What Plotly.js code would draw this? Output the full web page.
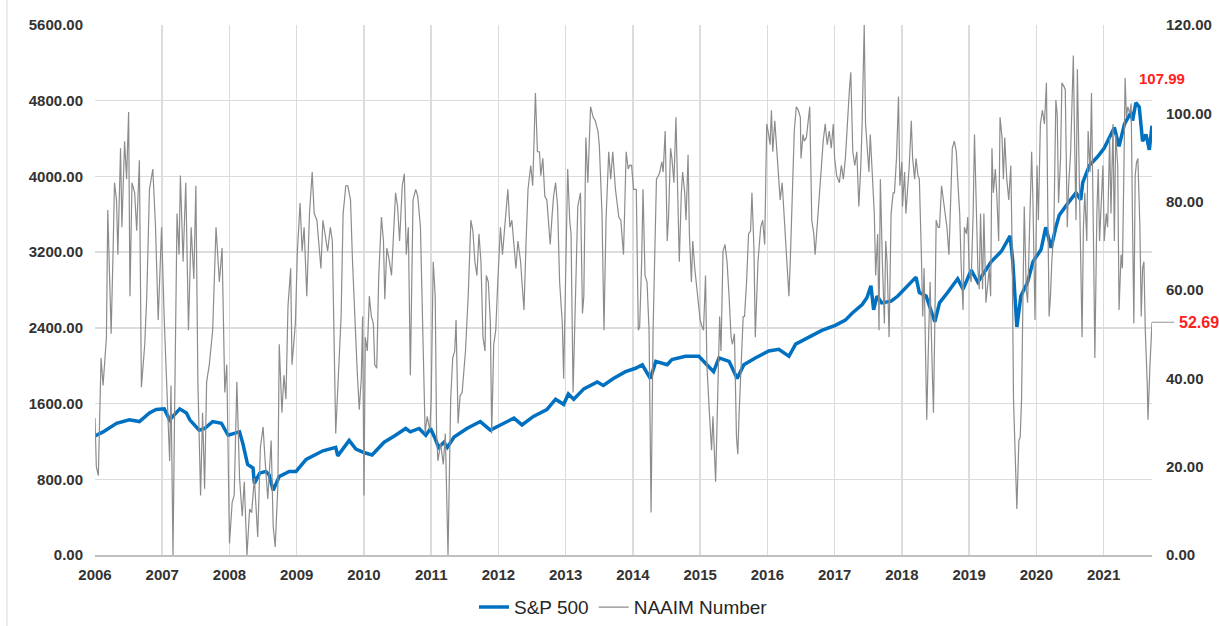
<!DOCTYPE html>
<html>
<head>
<meta charset="utf-8">
<script src="https://cdn.plot.ly/plotly-3.0.1.min.js"></script>
<style>
html,body{margin:0;padding:0;background:#fff;}
#chart{width:1219px;height:626px;}
</style>
</head>
<body>
<div id="chart"></div>
<script>
// S&P 500 (left axis), time in decimal years as labelled on the chart's axis
var spYear = [2006.00,2006.12,2006.32,2006.51,2006.66,2006.81,2006.91,2007.03,2007.11,2007.26,2007.36,2007.41,2007.55,2007.63,2007.75,2007.88,2007.98,
2008.15,2008.20,2008.27,2008.35,2008.37,2008.45,2008.54,2008.59,2008.65,2008.74,2008.89,2008.99,2009.14,2009.39,2009.58,2009.61,2009.78,2009.88,2010.00,
2010.12,2010.30,2010.47,2010.62,2010.69,2010.82,2010.92,2010.99,2011.06,2011.11,2011.19,2011.24,2011.34,2011.53,2011.73,2011.88,2012.03,2012.23,2012.35,
2012.52,2012.72,2012.85,2012.97,2013.04,2013.12,2013.27,2013.47,2013.56,2013.71,2013.89,2014.04,2014.14,2014.26,2014.34,2014.51,2014.58,2014.78,2014.98,
2015.10,2015.20,2015.28,2015.43,2015.55,2015.65,2015.82,2016.02,2016.17,2016.32,2016.42,2016.61,2016.81,2017.01,2017.16,2017.26,2017.41,2017.48,2017.54,
2017.58,2017.63,2017.70,2017.84,2017.94,2018.04,2018.21,2018.26,2018.36,2018.49,2018.56,2018.68,2018.83,2018.91,2019.03,2019.13,2019.23,2019.33,2019.48,
2019.61,2019.65,2019.71,2019.77,2019.87,2019.95,2020.07,2020.14,2020.22,2020.29,2020.34,2020.47,2020.59,2020.66,2020.69,2020.79,2020.91,2021.01,2021.16,
2021.23,2021.31,2021.41,2021.43,2021.48,2021.53,2021.58,2021.63,2021.68,2021.72];
var spValue = [1257,1301,1392,1428,1410,1501,1537,1544,1428,1544,1501,1428,1319,1337,1410,1392,1265,
1301,1174,956,919,756,865,883,847,683,829,883,883,1010,1101,1137,1047,1210,1119,1083,
1057,1192,1265,1337,1301,1337,1265,1337,1228,1137,1192,1137,1246,1337,1410,1319,1374,1446,1374,
1464,1537,1646,1592,1701,1646,1755,1828,1792,1864,1937,1973,2010,1864,2046,2010,2064,2100,2100,
2010,1937,2082,2046,1864,2010,2082,2155,2173,2100,2228,2300,2373,2427,2482,2555,2646,2718,2845,
2591,2736,2664,2682,2736,2809,2936,2773,2736,2464,2664,2773,2918,2809,3009,2882,2991,3100,3209,
3372,3100,2409,2736,2882,3100,3227,3463,3245,3463,3590,3718,3827,3754,3936,4117,4208,4299,4517,
4317,4553,4681,4590,4779,4735,4372,4444,4281,4535];

// NAAIM Number (right axis)
var naaimYear = [2006.00,2006.02,2006.05,2006.09,2006.12,2006.17,2006.19,2006.24,2006.27,2006.29,2006.32,2006.34,2006.38,2006.40,2006.44,2006.47,2006.50,2006.52,2006.55,2006.59,
2006.62,2006.66,2006.69,2006.74,2006.77,2006.81,2006.86,2006.90,2006.94,2006.99,2007.03,2007.07,2007.11,2007.13,2007.16,2007.18,2007.22,2007.25,2007.27,2007.31,
2007.35,2007.39,2007.43,2007.47,2007.50,2007.53,2007.57,2007.60,2007.63,2007.66,2007.70,2007.75,2007.80,2007.85,2007.89,2007.93,2007.96,2008.00,2008.04,2008.07,
2008.11,2008.15,2008.19,2008.22,2008.26,2008.30,2008.33,2008.37,2008.42,2008.46,2008.50,2008.53,2008.57,2008.62,2008.65,2008.68,2008.72,2008.74,2008.78,2008.81,
2008.84,2008.87,2008.91,2008.93,2008.98,2009.01,2009.05,2009.08,2009.11,2009.15,2009.19,2009.23,2009.26,2009.30,2009.34,2009.36,2009.39,2009.43,2009.46,2009.50,
2009.53,2009.58,2009.62,2009.66,2009.69,2009.73,2009.76,2009.80,2009.83,2009.87,2009.90,2009.93,2009.96,2009.98,2010.00,2010.02,2010.05,2010.08,2010.11,2010.14,
2010.16,2010.19,2010.22,2010.26,2010.29,2010.31,2010.34,2010.37,2010.41,2010.44,2010.47,2010.50,2010.53,2010.57,2010.60,2010.63,2010.66,2010.69,2010.73,2010.77,
2010.80,2010.84,2010.88,2010.91,2010.94,2010.98,2011.00,2011.03,2011.06,2011.08,2011.10,2011.14,2011.18,2011.21,2011.25,2011.29,2011.32,2011.35,2011.37,2011.40,
2011.43,2011.46,2011.51,2011.55,2011.59,2011.62,2011.65,2011.68,2011.71,2011.74,2011.77,2011.80,2011.82,2011.85,2011.88,2011.90,2011.93,2011.96,2011.99,2012.03,
2012.06,2012.10,2012.14,2012.17,2012.20,2012.23,2012.26,2012.29,2012.33,2012.35,2012.38,2012.41,2012.44,2012.48,2012.51,2012.55,2012.58,2012.61,2012.63,2012.66,
2012.69,2012.72,2012.75,2012.77,2012.80,2012.82,2012.85,2012.88,2012.91,2012.95,2012.97,2013.00,2013.03,2013.06,2013.08,2013.11,2013.14,2013.18,2013.22,2013.25,
2013.27,2013.30,2013.33,2013.37,2013.41,2013.44,2013.48,2013.50,2013.54,2013.57,2013.60,2013.64,2013.67,2013.70,2013.74,2013.76,2013.79,2013.82,2013.86,2013.90,
2013.93,2013.95,2013.98,2014.01,2014.05,2014.08,2014.10,2014.13,2014.15,2014.18,2014.21,2014.24,2014.27,2014.30,2014.33,2014.35,2014.38,2014.40,2014.43,2014.45,
2014.48,2014.50,2014.51,2014.53,2014.56,2014.58,2014.61,2014.64,2014.67,2014.69,2014.72,2014.74,2014.77,2014.79,2014.82,2014.84,2014.87,2014.89,2014.92,2014.96,
2014.98,2015.00,2015.03,2015.05,2015.08,2015.10,2015.14,2015.17,2015.19,2015.23,2015.26,2015.29,2015.31,2015.34,2015.37,2015.40,2015.43,2015.46,2015.48,2015.51,
2015.54,2015.56,2015.58,2015.61,2015.64,2015.66,2015.69,2015.72,2015.75,2015.77,2015.80,2015.82,2015.86,2015.90,2015.93,2015.96,2015.99,2016.01,2016.04,2016.06,
2016.08,2016.11,2016.13,2016.16,2016.19,2016.22,2016.24,2016.27,2016.29,2016.32,2016.34,2016.37,2016.40,2016.43,2016.46,2016.49,2016.50,2016.53,2016.55,2016.58,
2016.60,2016.63,2016.66,2016.69,2016.71,2016.74,2016.77,2016.80,2016.83,2016.86,2016.89,2016.92,2016.95,2016.98,2017.00,2017.03,2017.07,2017.10,2017.13,2017.16,
2017.19,2017.22,2017.24,2017.27,2017.30,2017.33,2017.36,2017.39,2017.41,2017.44,2017.46,2017.49,2017.51,2017.53,2017.56,2017.59,2017.61,2017.64,2017.66,2017.68,
2017.71,2017.74,2017.76,2017.78,2017.81,2017.84,2017.87,2017.89,2017.92,2017.95,2017.97,2018.00,2018.01,2018.04,2018.06,2018.09,2018.11,2018.14,2018.16,2018.19,
2018.21,2018.24,2018.26,2018.29,2018.31,2018.33,2018.35,2018.37,2018.40,2018.42,2018.45,2018.47,2018.49,2018.51,2018.54,2018.56,2018.59,2018.62,2018.65,2018.67,
2018.70,2018.73,2018.75,2018.78,2018.81,2018.83,2018.86,2018.88,2018.91,2018.93,2018.96,2018.98,2019.00,2019.03,2019.06,2019.08,2019.10,2019.13,2019.15,2019.17,
2019.20,2019.22,2019.25,2019.27,2019.30,2019.32,2019.34,2019.36,2019.39,2019.41,2019.44,2019.46,2019.49,2019.51,2019.53,2019.56,2019.59,2019.62,2019.64,2019.66,
2019.69,2019.71,2019.74,2019.76,2019.78,2019.80,2019.82,2019.85,2019.87,2019.90,2019.93,2019.95,2019.98,2020.01,2020.03,2020.06,2020.09,2020.12,2020.15,2020.17,
2020.19,2020.21,2020.23,2020.26,2020.29,2020.31,2020.33,2020.36,2020.38,2020.41,2020.43,2020.46,2020.48,2020.51,2020.53,2020.55,2020.57,2020.59,2020.61,2020.63,
2020.65,2020.68,2020.70,2020.72,2020.75,2020.77,2020.80,2020.82,2020.85,2020.87,2020.90,2020.92,2020.94,2020.97,2020.99,2021.01,2021.04,2021.06,2021.09,2021.11,
2021.14,2021.16,2021.18,2021.21,2021.23,2021.26,2021.28,2021.30,2021.32,2021.34,2021.36,2021.39,2021.41,2021.43,2021.45,2021.47,2021.49,2021.51,2021.54,2021.56,
2021.58,2021.60,2021.62,2021.65,2021.66,2021.69,2021.72];
var naaimValue = [31,20,18,44.6,38.4,49.3,78.1,50.1,69.5,84.3,80.4,68,92.1,74.2,93.7,85.1,100.3,58.6,84.3,82,
73.4,89.4,38,47.7,58.6,82.8,87.4,74.2,53.2,74.2,53.2,39.2,21.3,38.4,0,27.5,77.3,68,85.9,66.4,
84.3,50.9,74.2,62.5,83.6,39.2,13.5,32.2,15,39.2,43.1,50.9,74.2,61.8,69.5,36.8,43.1,2.6,11.9,13.5,
39.2,17.4,8.8,16.6,0,10.4,9.6,17.4,4.1,24.4,29,21.3,12.7,25.9,6.5,1.8,15.8,47.7,32.2,40.7,
35.3,56.3,64.9,43.1,52.4,68.8,79.7,68.8,74.2,58.6,77.3,86.7,77.3,75.8,68,64.9,75.8,71.1,68.8,74.2,
71.1,27.5,39.2,54,77.3,83.6,83.6,80.4,66.4,50.9,41.5,32.9,39.9,54,13.5,49.3,46.2,58.6,54,52.4,
43.1,42.3,63.3,76.5,71.1,57.9,69.5,67.2,63.3,72.7,82,78.9,71.1,83.6,86.3,68,74.2,40.7,80.4,82.8,
81.2,74.2,50.9,27.5,31.4,28.3,35.3,66.4,58.6,27.5,21.3,25.2,20.5,27.5,0,35.3,44.6,46.2,53.2,29.8,
36.1,36.8,46.2,58.6,75.8,73.4,66.4,63.3,72.7,66.4,49.3,46.2,63.3,61.8,52.4,27.5,47.7,50.9,61.8,74.2,
68,75.8,82.8,74.2,75.8,70.3,64.9,71.1,66.4,61.8,55.5,70.3,82.8,88.2,83.6,104.6,91.3,91.3,85.9,89.8,
81.2,80.4,73.4,70.3,77.3,81.2,84.3,78.9,61.8,52.4,39.9,61,87.4,75.8,72.7,36.8,54,78.9,82,54.7,
58.6,94.5,84.3,101.5,99.1,98.3,96,92.9,77.3,50.9,75.8,91.3,85.1,91.3,82.8,80.4,76.5,75.8,68,91.3,
87.4,88.2,88.2,82.8,82.8,50.9,51.6,66.4,82.8,63.3,61.8,50.9,9.6,50.9,75.8,85.1,85.9,86.7,89,86.7,
96,83.6,71.1,76.5,92.1,89.8,84.3,99.1,77.3,66.4,82,86.7,82,75.8,90.6,72.7,61.8,71.1,64.9,58.6,
56.3,53.2,51.6,50.9,63.3,43.1,31.4,23.7,31.4,16.6,35.3,54,46.2,68.8,70.3,66.4,58.6,49.3,47.7,50.1,
26.7,22.8,32.2,43.1,54,54,61.8,72.7,73.4,82,69.5,49.3,66.4,74.2,75.8,70.3,97.6,96,92.9,100.7,
91.3,98.3,93.7,86.7,80.4,84.3,78.9,72.7,68,58.6,66.4,83.6,96,101.5,100.7,99.1,89.8,95.2,93.7,94.5,
97.6,101.5,75.8,72.7,68,74.2,82,88.2,93.7,97.6,92.9,96,92.1,97.6,89.8,85.9,84.3,88.2,85.1,89.8,
99.1,105.4,109.3,91.3,88.2,91.3,78.9,88.2,98.3,120,97.6,89.8,86.7,95.2,84.3,77.3,63.3,72.7,50.9,85.1,
66.4,52.4,71.1,66.4,49.3,77.3,82,82,89.8,103.8,83.6,89,78.9,86.7,77.3,83.6,88.2,98.3,89.8,85.1,
89.8,85.9,85.1,68,54,64.9,50.9,30.6,50.9,61.8,43.1,32.2,52.4,75.8,74.2,74.2,83.6,80.4,77.3,74.2,
68,83.6,92.1,93.7,91.3,85.1,77.3,66.4,55.5,74.2,72.7,76.5,64.9,61.8,77.3,95.2,83.6,64.9,60.2,77.3,
60.2,77.3,57.1,60.2,64.9,58.6,92.1,82,87.4,82,71.1,99.1,94.5,85.1,94.5,85.1,80.4,88.2,69.5,35.3,
19.7,10.4,25.9,26.7,35.3,58.6,78.9,60.2,57.1,74.2,91.3,79.7,53.2,88.2,75.8,97.6,100.7,97.6,106.9,78.1,
54,58.6,66.4,73.4,103,99.9,79.7,89.8,106.9,106.1,105.4,74.2,83.6,91.3,105.4,113.1,92.9,75.8,110,91.3,
74.2,49.3,74.2,82,71.1,96,86.7,104.6,71.1,44.6,77.3,87.4,71.1,83.6,88.2,71.1,77.3,74.2,94.5,77.3,
97.6,71.1,95.2,88.2,55.5,68,64.9,85.1,107.99,99.1,101.5,99.9,102.2,75.8,52.4,85.9,88.9,89.8,74.2,54,
64.9,66.4,50.9,38.4,30.6,43.1,52.69];

var yearTicks = [2006,2007,2008,2009,2010,2011,2012,2013,2014,2015,2016,2017,2018,2019,2020,2021];
var yearLabels = ['2006','2007','2008','2009','2010','2011','2012','2013','2014','2015','2016','2017','2018','2019','2020','2021'];

var lastN = naaimValue[naaimValue.length - 1];
var peakN = Math.max.apply(null, naaimValue.filter(function(v, i){ return naaimYear[i] > 2021; }));

var FONT = 'Liberation Sans, Arial, sans-serif';
var tickFont = {family: FONT, size: 15, color: '#333333', weight: 'bold'};

var traces = [
  {x: spYear, y: spValue, type: 'scatter', mode: 'lines', name: 'S&P 500',
   line: {color: '#0070C0', width: 3.5}, yaxis: 'y', hoverinfo: 'skip'},
  {x: naaimYear, y: naaimValue, type: 'scatter', mode: 'lines', name: 'NAAIM Number',
   line: {color: '#8C8C8C', width: 1.2}, yaxis: 'y2', hoverinfo: 'skip'}
];

var layout = {
  width: 1219, height: 626,
  margin: {l: 95, r: 67, t: 25, b: 71},
  paper_bgcolor: '#ffffff', plot_bgcolor: '#ffffff',
  font: {family: FONT, color: '#333333'},
  showlegend: true,
  legend: {orientation: 'h', xref: 'paper', x: 0.5, xanchor: 'center',
           yref: 'container', y: 0.030, yanchor: 'middle',
           font: {family: FONT, size: 19, color: '#262626'}, itemwidth: 30, traceorder: 'normal'},
  xaxis: {type: 'linear', range: [2006, 2021.72], tickvals: yearTicks, ticktext: yearLabels,
          showgrid: true, gridcolor: '#dcdcdc', gridwidth: 1.5, zeroline: false,
          showline: true, linecolor: '#c0c0c0', linewidth: 2, ticks: '',
          tickfont: tickFont, ticklabelstandoff: 5, fixedrange: true, automargin: false},
  yaxis: {range: [0, 5600], dtick: 800, tick0: 0, tickformat: '.2f',
          showgrid: true, gridcolor: '#dcdcdc', gridwidth: 1.5, zeroline: false,
          showline: false, ticks: '', tickfont: tickFont, ticklabelstandoff: 11, fixedrange: true, automargin: false},
  yaxis2: {range: [0, 120], dtick: 20, tick0: 0, tickformat: '.2f', overlaying: 'y', side: 'right',
           showgrid: false, zeroline: false, showline: false, ticks: '',
           tickfont: tickFont, ticklabelstandoff: 13, fixedrange: true, automargin: false},
  shapes: [
    {type: 'line', xref: 'paper', yref: 'paper', x0: -0.0833, x1: -0.0833, y0: -0.134, y1: 1.047,
     line: {color: '#d9d9d9', width: 1}},
    {type: 'line', xref: 'paper', yref: 'y2', x0: 1.0, x1: 1.021, y0: lastN, y1: lastN,
     line: {color: '#a6a6a6', width: 1.2}}
  ],
  annotations: [
    {xref: 'paper', yref: 'y2', x: 1.0095, y: peakN, text: peakN.toFixed(2), showarrow: false,
     xanchor: 'center', yanchor: 'middle', font: {family: FONT, size: 15, color: '#FF2020', weight: 'bold'}},
    {xref: 'paper', yref: 'y2', x: 1.0235, y: lastN, text: lastN.toFixed(2), showarrow: false,
     xanchor: 'left', yanchor: 'middle', font: {family: FONT, size: 16, color: '#FF2020', weight: 'bold'}}
  ]
};

Plotly.newPlot('chart', traces, layout, {displayModeBar: false, staticPlot: true});
</script>
</body>
</html>
